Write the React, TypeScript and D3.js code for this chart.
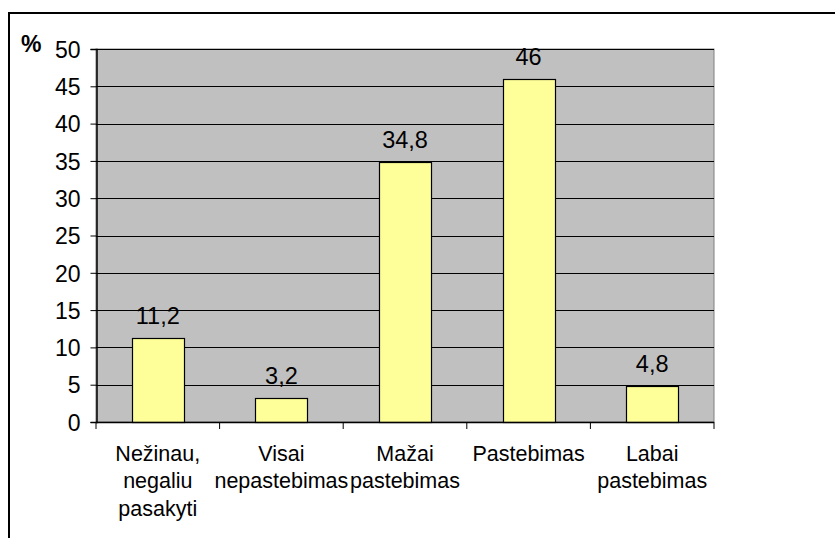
import * as d3 from 'd3'
import { useEffect, useRef } from 'react'

const categories = [
  ['Nežinau,', 'negaliu', 'pasakyti'],
  ['Visai', 'nepastebimas'],
  ['Mažai', 'pastebimas'],
  ['Pastebimas'],
  ['Labai', 'pastebimas'],
]
const values = [11.2, 3.2, 34.8, 46, 4.8]
const valueLabels = ['11,2', '3,2', '34,8', '46', '4,8']
const yTicks = [0, 5, 10, 15, 20, 25, 30, 35, 40, 45, 50]

const App = () => {
  const ref = useRef<SVGSVGElement>(null)

  useEffect(() => {
    const svg = d3.select(ref.current)
    svg.selectAll('*').remove()

    const font = 'Liberation Sans, Arial, sans-serif'
    const plot = { left: 96, top: 49, right: 714, bottom: 422 }

    // outer chart border, runs off the right and bottom edge
    svg
      .append('rect')
      .attr('x', 9)
      .attr('y', 13)
      .attr('width', 840)
      .attr('height', 540)
      .attr('fill', 'white')
      .attr('stroke', '#000')
      .attr('stroke-width', 2)

    const x = d3
      .scaleBand()
      .domain(d3.range(values.length).map(String))
      .range([plot.left, plot.right])
      .paddingInner(0.58)
      .paddingOuter(0.29)

    const band = (plot.right - plot.left) / values.length

    const y = d3.scaleLinear().domain([0, 50]).range([plot.bottom, plot.top])

    svg
      .append('rect')
      .attr('x', plot.left)
      .attr('y', plot.top)
      .attr('width', plot.right - plot.left)
      .attr('height', plot.bottom - plot.top)
      .attr('fill', '#C0C0C0')
      .attr('stroke', '#808080')
      .attr('stroke-width', 1)

    svg
      .append('g')
      .selectAll('line')
      .data(yTicks.slice(1))
      .enter()
      .append('line')
      .attr('x1', plot.left)
      .attr('x2', plot.right)
      .attr('y1', (d) => Math.round(y(d)) + 0.5)
      .attr('y2', (d) => Math.round(y(d)) + 0.5)
      .attr('stroke', '#000')
      .attr('stroke-width', 1)

    svg
      .append('g')
      .selectAll('rect')
      .data(values)
      .enter()
      .append('rect')
      .attr('x', (d, i) => Math.round(x(String(i))!) + 0.5)
      .attr('y', (d) => Math.round(y(d)) + 0.5)
      .attr('width', Math.round(x.bandwidth()))
      .attr('height', (d) => Math.round(y(0)) - Math.round(y(d)))
      .attr('fill', '#FFFF99')
      .attr('stroke', '#000')
      .attr('stroke-width', 1.2)

    svg
      .append('g')
      .selectAll('text')
      .data(values)
      .enter()
      .append('text')
      .attr('x', (d, i) => x(String(i))! + x.bandwidth() / 2)
      .attr('y', (d) => y(d) - 14)
      .attr('text-anchor', 'middle')
      .attr('font-family', font)
      .attr('font-size', 23.5)
      .attr('fill', '#000')
      .text((d, i) => valueLabels[i])

    // y axis
    const yAxis = svg
      .append('g')
      .attr('transform', 'translate(' + (plot.left + 0.5) + ',0)')
      .call(d3.axisLeft(y).tickValues(yTicks).tickSize(6).tickPadding(10))
    yAxis.select('.domain').attr('stroke', '#000').attr('stroke-width', 1.5)
    yAxis
      .selectAll('text')
      .attr('font-family', font)
      .attr('font-size', 23)
      .attr('fill', '#000')
      .attr('dy', '0.36em')

    // x axis
    svg
      .append('line')
      .attr('x1', plot.left)
      .attr('x2', plot.right)
      .attr('y1', plot.bottom + 0.5)
      .attr('y2', plot.bottom + 0.5)
      .attr('stroke', '#000')
      .attr('stroke-width', 1.5)

    svg
      .append('g')
      .selectAll('line')
      .data(d3.range(values.length + 1))
      .enter()
      .append('line')
      .attr('x1', (d) => plot.left + d * band)
      .attr('x2', (d) => plot.left + d * band)
      .attr('y1', plot.bottom)
      .attr('y2', plot.bottom + 7)
      .attr('stroke', '#000')
      .attr('stroke-width', 1)

    const labels = svg
      .append('g')
      .selectAll('text')
      .data(categories)
      .enter()
      .append('text')
      .attr('text-anchor', 'middle')
      .attr('font-family', font)
      .attr('font-size', 21.5)
      .attr('fill', '#000')

    labels
      .selectAll('tspan')
      .data((d, i) => d.map((line) => ({ line, i })))
      .enter()
      .append('tspan')
      .attr('x', (d) => x(String(d.i))! + x.bandwidth() / 2)
      .attr('y', (d, j) => 460.5 + j * 27.5)
      .text((d) => d.line)

    svg
      .append('text')
      .attr('x', 21)
      .attr('y', 52)
      .attr('font-family', font)
      .attr('font-size', 23)
      .attr('font-weight', 'bold')
      .attr('fill', '#000')
      .text('%')
  }, [])

  return (
    <svg
      ref={ref}
      width={835}
      height={538}
      style={{ position: 'absolute', left: 0, top: 0 }}
    />
  )
}

export default App
